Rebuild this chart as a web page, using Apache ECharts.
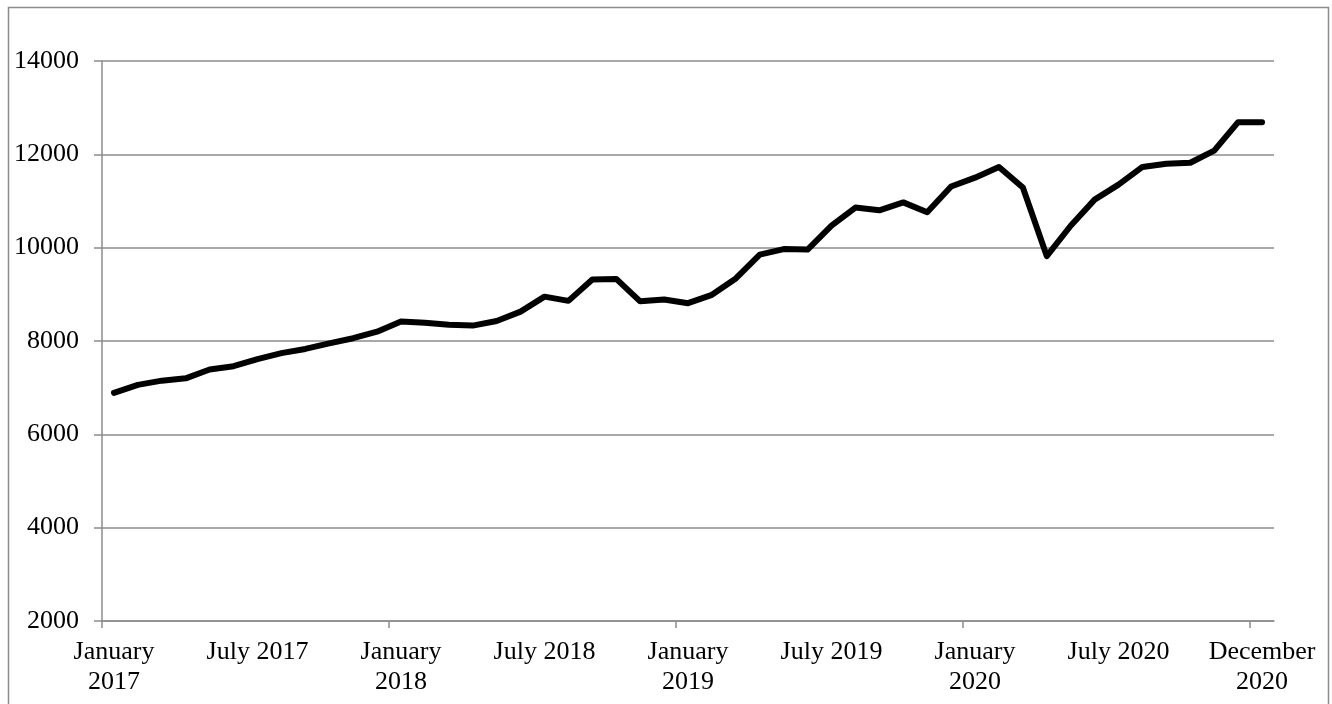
<!DOCTYPE html>
<html>
<head>
<meta charset="utf-8">
<script src="https://cdn.jsdelivr.net/npm/echarts@6/dist/echarts.min.js"></script>
<style>
html,body{margin:0;padding:0;background:#fff;}
#chart{width:1332px;height:704px;}
</style>
</head>
<body>
<div id="chart"></div>
<script>
// Categories (monthly points; last point repeats December 2020)
const categories = [
  'Jan 2017','Feb 2017','Mar 2017','Apr 2017','May 2017','Jun 2017','Jul 2017','Aug 2017','Sep 2017','Oct 2017','Nov 2017','Dec 2017',
  'Jan 2018','Feb 2018','Mar 2018','Apr 2018','May 2018','Jun 2018','Jul 2018','Aug 2018','Sep 2018','Oct 2018','Nov 2018','Dec 2018',
  'Jan 2019','Feb 2019','Mar 2019','Apr 2019','May 2019','Jun 2019','Jul 2019','Aug 2019','Sep 2019','Oct 2019','Nov 2019','Dec 2019',
  'Jan 2020','Feb 2020','Mar 2020','Apr 2020','May 2020','Jun 2020','Jul 2020','Aug 2020','Sep 2020','Oct 2020','Nov 2020','Dec 2020',
  'Dec 2020 (end)'
];
const values = [
  6890, 7060, 7150, 7200, 7390, 7460, 7610, 7740, 7830, 7950, 8060, 8200,
  8420, 8390, 8350, 8330, 8430, 8630, 8950, 8860, 9320, 9330, 8850, 8890,
  8810, 8990, 9340, 9850, 9970, 9960, 10470, 10860, 10800, 10970, 10760, 11310,
  11500, 11730, 11290, 9820, 10470, 11030, 11350, 11730, 11800, 11820, 12080, 12690,
  12690
];
// Tick labels shown on the category axis (index -> text)
const tickLabelIndex = [0, 6, 12, 18, 24, 30, 36, 42, 48];
const tickLabelText = ['January\n2017', 'July 2017', 'January\n2018', 'July 2018', 'January\n2019', 'July 2019', 'January\n2020', 'July 2020', 'December\n2020'];
// Tick marks (category boundaries)
const tickMarkPositions = [0, 12, 24, 36, 48];
const yTicks = { min: 2000, max: 14000, interval: 2000 };

const FONT = 'Liberation Serif, Times New Roman, serif';
const GRID = '#8c8c8c';

const chart = echarts.init(document.getElementById('chart'), null, { renderer: 'canvas' });
chart.setOption({
  animation: false,
  backgroundColor: '#fff',
  graphic: [{
    type: 'rect',
    shape: { x: 8.5, y: 7.5, width: 1320, height: 740 },
    style: { fill: 'none', stroke: GRID, lineWidth: 1.5 },
    silent: true, z: -1
  }],
  grid: { left: 102, right: 58, top: 61, bottom: 83, containLabel: false },
  xAxis: [{
    type: 'category',
    data: categories,
    boundaryGap: true,
    axisLine: { show: true, lineStyle: { color: GRID, width: 1.5 } },
    axisTick: { show: false },
    splitLine: { show: false },
    axisLabel: {
      interval: function (i) { return tickLabelIndex.indexOf(i) >= 0; },
      formatter: function (v, i) { const k = tickLabelIndex.indexOf(i); return k >= 0 ? tickLabelText[k] : ''; },
      color: '#000', fontFamily: FONT, fontSize: 26, lineHeight: 30, margin: 16,
      hideOverlap: false
    }
  }, {
    type: 'value',
    min: 0,
    max: categories.length,
    position: 'bottom',
    axisLine: { show: false },
    axisLabel: { show: false },
    splitLine: { show: false },
    axisTick: { show: true, length: 7, customValues: tickMarkPositions, lineStyle: { color: GRID, width: 1.5 } }
  }],
  yAxis: {
    type: 'value',
    min: yTicks.min, max: yTicks.max, interval: yTicks.interval,
    axisLine: { show: true, lineStyle: { color: GRID, width: 1.5 } },
    axisTick: { show: true, length: 8, lineStyle: { color: GRID, width: 1.5 } },
    splitLine: { show: true, lineStyle: { color: GRID, width: 1.5 } },
    axisLabel: { color: '#000', fontFamily: FONT, fontSize: 26, margin: 23, formatter: function (v) { return String(v); } }
  },
  series: [{
    type: 'line',
    xAxisIndex: 0,
    data: values,
    showSymbol: false,
    symbol: 'none',
    lineStyle: { color: '#000', width: 6, cap: 'round', join: 'round' },
    z: 5
  }]
});
</script>
</body>
</html>
